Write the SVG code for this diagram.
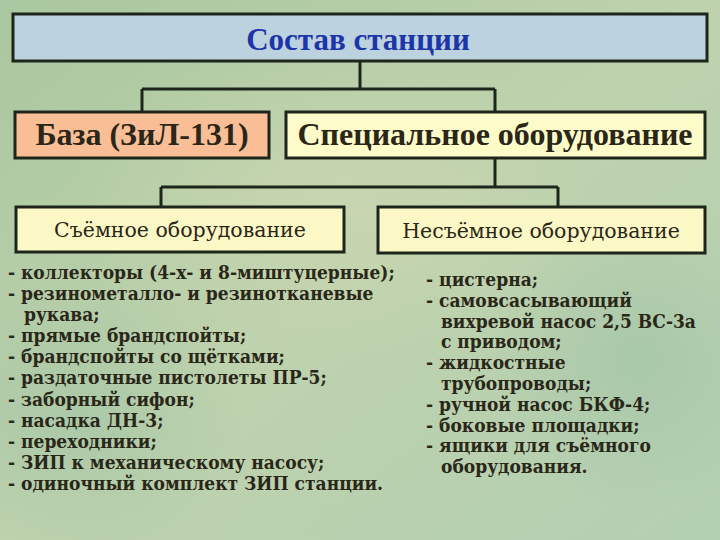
<svg xmlns="http://www.w3.org/2000/svg" width="720" height="540" viewBox="0 0 720 540">
<defs>
<linearGradient id="bg" x1="0" y1="0" x2="1" y2="1">
<stop offset="0" stop-color="#a9c7a0"/>
<stop offset="0.5" stop-color="#bed2ad"/>
<stop offset="1" stop-color="#b3cfb2"/>
</linearGradient>
<radialGradient id="spot1" cx="0.5" cy="0.5" r="0.5">
<stop offset="0" stop-color="#cdd8b2" stop-opacity="0.7"/>
<stop offset="1" stop-color="#cdd8b2" stop-opacity="0"/>
</radialGradient>
<radialGradient id="spot2" cx="0.5" cy="0.5" r="0.5">
<stop offset="0" stop-color="#9fc3a6" stop-opacity="0.6"/>
<stop offset="1" stop-color="#9fc3a6" stop-opacity="0"/>
</radialGradient>
</defs>
<style>
.box{stroke:#1e261c;stroke-width:3}
.conn{stroke:#1e261c;stroke-width:3;fill:none}
.t{font-family:"Liberation Serif","Times New Roman",serif;fill:#2a2618}
.d{font-family:"DejaVu Serif","Liberation Serif",serif;fill:#2a2618}
.hd{font-weight:bold;font-size:32px;text-anchor:middle}
.sub{font-size:20.5px;text-anchor:middle}
.li{font-weight:bold;font-size:17.1px}
</style>
<rect width="720" height="540" fill="url(#bg)"/>
<ellipse cx="330" cy="200" rx="260" ry="160" fill="url(#spot1)"/>
<ellipse cx="80" cy="420" rx="160" ry="140" fill="url(#spot2)"/>
<ellipse cx="640" cy="360" rx="150" ry="150" fill="url(#spot2)"/>

<g id="connectors">
<path class="conn" d="M360 61V89M142 89H495M142 89V112M495 89V112"/>
<path class="conn" d="M495 158V187M161 187H558M161 187V207M558 187V207"/>
</g>

<g id="top">
<rect class="box" x="13" y="14" width="694" height="47" fill="#bcd3df"/>
<text class="t hd" x="358" y="50" style="fill:#1d35a8;font-size:31px">Состав станции</text>
</g>
<g id="base">
<rect class="box" x="15" y="112" width="254" height="46" fill="#f9be95"/>
<text class="t hd" x="142" y="145">База (ЗиЛ-131)</text>
</g>
<g id="special">
<rect class="box" x="286" y="112" width="419" height="46" fill="#fdfbc8"/>
<text class="t hd" x="495" y="145">Специальное оборудование</text>
</g>
<g id="removable">
<rect class="box" x="16" y="207" width="328" height="45" fill="#fcf8c6"/>
<text class="d sub" x="180" y="237">Съёмное оборудование</text>
</g>
<g id="fixed">
<rect class="box" x="378" y="207" width="327" height="46" fill="#fcf8c6"/>
<text class="d sub" x="541" y="238">Несъёмное оборудование</text>
</g>

<g id="removable-list" transform="matrix(1 0 0 1.12 0 -33.48)">
<text class="d li" x="8" y="279">
<tspan x="8">- коллекторы (4-х- и 8-миштуцерные);</tspan>
<tspan x="8" dy="18.84">- резинометалло- и резинотканевые</tspan>
<tspan x="24" dy="18.84">рукава;</tspan>
<tspan x="8" dy="18.84">- прямые брандспойты;</tspan>
<tspan x="8" dy="18.84">- брандспойты со щётками;</tspan>
<tspan x="8" dy="18.84">- раздаточные пистолеты ПР-5;</tspan>
<tspan x="8" dy="18.84">- заборный сифон;</tspan>
<tspan x="8" dy="18.84">- насадка ДН-3;</tspan>
<tspan x="8" dy="18.84">- переходники;</tspan>
<tspan x="8" dy="18.84">- ЗИП к механическому насосу;</tspan>
<tspan x="8" dy="18.84">- одиночный комплект ЗИП станции.</tspan>
</text>
</g>
<g id="fixed-list" transform="matrix(1 0 0 1.12 0 -34.32)">
<text class="d li" x="426" y="286">
<tspan x="426">- цистерна;</tspan>
<tspan x="426" dy="18.57">- самовсасывающий</tspan>
<tspan x="441" dy="18.57">вихревой насос 2,5 ВС-3а</tspan>
<tspan x="441" dy="18.57">с приводом;</tspan>
<tspan x="426" dy="18.57">- жидкостные</tspan>
<tspan x="441" dy="18.57">трубопроводы;</tspan>
<tspan x="426" dy="18.57">- ручной насос БКФ-4;</tspan>
<tspan x="426" dy="18.57">- боковые площадки;</tspan>
<tspan x="426" dy="18.57">- ящики для съёмного</tspan>
<tspan x="441" dy="18.57">оборудования.</tspan>
</text>
</g>
</svg>
